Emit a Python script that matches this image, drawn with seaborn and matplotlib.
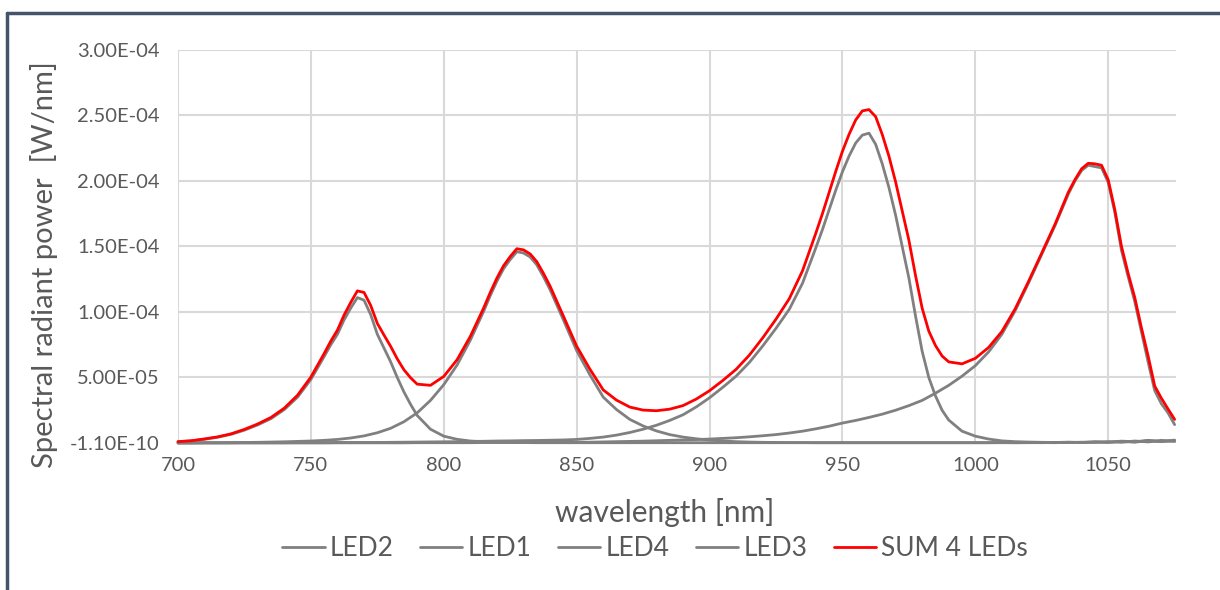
import numpy as np
import pandas as pd
import matplotlib
matplotlib.use("Agg")
import matplotlib.pyplot as plt
import seaborn as sns
from matplotlib.lines import Line2D
from matplotlib.ticker import FuncFormatter

# wavelength grid [nm]; spectra in units of 1e-5 W/nm
wavelength = np.arange(700, 1076, 5)

led2 = [0.10, 0.16, 0.28, 0.44, 0.66, 0.98, 1.38, 1.86, 2.55, 3.50,
        4.85, 6.60, 8.30, 10.30, 10.90, 8.30, 6.20, 3.90, 2.10, 1.05,
        0.52, 0.28, 0.15, 0.09, 0.06, 0.04, 0.03, 0.02, 0.02, 0.02,
        0.02, 0.02, 0.02, 0.02, 0.02, 0.02, 0.02, 0.02, 0.02, 0.02,
        0.02, 0.02, 0.02, 0.02, 0.02, 0.02, 0.02, 0.02, 0.02, 0.02,
        0.02, 0.02, 0.02, 0.02, 0.02, 0.02, 0.02, 0.02, 0.02, 0.02,
        0.02, 0.02, 0.02, 0.02, 0.03, 0.02, 0.04, 0.03, 0.06, 0.04,
        0.10, 0.05, 0.15, 0.08, 0.20, 0.12]

led1 = [0.00, 0.01, 0.02, 0.02, 0.03, 0.04, 0.05, 0.07, 0.09, 0.12,
        0.15, 0.20, 0.27, 0.38, 0.54, 0.78, 1.12, 1.62, 2.30, 3.25,
        4.45, 5.95, 7.85, 10.05, 12.35, 14.00, 14.50, 13.60, 11.70, 9.40,
        7.05, 5.20, 3.50, 2.55, 1.80, 1.30, 0.92, 0.64, 0.45, 0.32,
        0.22, 0.15, 0.10, 0.07, 0.05, 0.04, 0.03, 0.03, 0.02, 0.02,
        0.02, 0.02, 0.02, 0.02, 0.02, 0.02, 0.02, 0.02, 0.02, 0.02,
        0.02, 0.02, 0.03, 0.02, 0.02, 0.03, 0.02, 0.05, 0.03, 0.08,
        0.04, 0.12, 0.06, 0.18, 0.10, 0.22]

led4 = [0.00, 0.00, 0.01, 0.01, 0.01, 0.02, 0.02, 0.02, 0.02, 0.03,
        0.03, 0.03, 0.04, 0.04, 0.04, 0.04, 0.05, 0.06, 0.07, 0.08,
        0.09, 0.10, 0.12, 0.13, 0.15, 0.16, 0.18, 0.19, 0.21, 0.23,
        0.27, 0.35, 0.45, 0.60, 0.80, 1.05, 1.35, 1.72, 2.15, 2.75,
        3.45, 4.25, 5.10, 6.15, 7.40, 8.75, 10.20, 12.20, 14.90, 17.80,
        20.70, 22.90, 23.65, 21.30, 17.40, 12.60, 7.00, 3.60, 1.75, 0.90,
        0.52, 0.30, 0.16, 0.10, 0.07, 0.05, 0.04, 0.06, 0.04, 0.09,
        0.06, 0.14, 0.09, 0.20, 0.12, 0.18]

led3 = [0.00, 0.00, 0.00, 0.00, 0.00, 0.00, 0.00, 0.00, 0.00, 0.00,
        0.00, 0.00, 0.01, 0.01, 0.01, 0.01, 0.01, 0.01, 0.02, 0.02,
        0.02, 0.02, 0.02, 0.03, 0.03, 0.03, 0.03, 0.03, 0.04, 0.04,
        0.05, 0.06, 0.08, 0.10, 0.12, 0.14, 0.17, 0.20, 0.23, 0.26,
        0.30, 0.35, 0.40, 0.47, 0.55, 0.64, 0.76, 0.90, 1.08, 1.28,
        1.52, 1.72, 1.95, 2.20, 2.50, 2.85, 3.25, 3.80, 4.40, 5.10,
        5.90, 6.95, 8.30, 10.10, 12.20, 14.40, 16.60, 19.00, 20.80, 21.10,
        19.90, 14.70, 10.80, 6.20, 3.00, 1.40]

led_sum = [0.10, 0.17, 0.31, 0.47, 0.70, 1.04, 1.45, 1.95, 2.66, 3.65,
           5.03, 6.83, 8.62, 10.73, 11.49, 9.13, 7.38, 5.59, 4.49, 4.40,
           5.08, 6.35, 8.14, 10.30, 12.59, 14.23, 14.74, 13.84, 11.97, 9.69,
           7.39, 5.63, 4.05, 3.27, 2.74, 2.51, 2.46, 2.58, 2.85, 3.35,
           3.99, 4.77, 5.62, 6.71, 8.02, 9.45, 11.01, 13.15, 16.02, 19.12,
           22.26, 24.66, 25.45, 23.54, 19.94, 15.49, 10.29, 7.44, 6.19, 6.04,
           6.46, 7.29, 8.51, 10.24, 12.32, 14.50, 16.70, 19.14, 20.93, 21.31,
           20.10, 15.01, 11.10, 6.66, 3.42, 1.80]

# extra readings around the peaks (half-step points)
led2_peak_wl = [757.5, 762.5, 767.5, 772.5, 777.5, 782.5, 787.5]
led2_peak = [7.50, 9.40, 11.10, 9.80, 7.25, 5.00, 2.95]
led1_peak_wl = [817.5, 822.5, 827.5, 832.5, 837.5]
led1_peak = [11.25, 13.30, 14.60, 14.20, 12.70]
led4_peak_wl = [942.5, 947.5, 952.5, 957.5, 962.5, 967.5, 972.5, 977.5, 982.5, 987.5]
led4_peak = [16.30, 19.30, 21.90, 23.50, 22.80, 19.50, 15.00, 9.70, 5.00, 2.50]
led3_peak_wl = [1037.5, 1042.5, 1047.5, 1052.5, 1057.5, 1062.5, 1067.5, 1072.5]
led3_peak = [20.00, 21.20, 21.00, 17.60, 12.70, 8.50, 4.00, 2.30]
sum_peak_wl = (led2_peak_wl + led1_peak_wl + led4_peak_wl + led3_peak_wl)
sum_peak = [7.78, 9.77, 11.61, 10.50, 8.24, 6.42, 4.98,
            11.49, 13.53, 14.83, 14.43, 12.95,
            17.52, 20.74, 23.56, 25.35, 24.91, 21.89, 17.71, 12.79, 8.54, 6.64,
            20.10, 21.35, 21.20, 17.80, 12.95, 8.80, 4.35, 2.60]

series_names = ["LED2", "LED1", "LED4", "LED3", "SUM 4 LEDs"]
series_base = [led2, led1, led4, led3, led_sum]
series_extra_wl = [led2_peak_wl, led1_peak_wl, led4_peak_wl, led3_peak_wl, sum_peak_wl]
series_extra = [led2_peak, led1_peak, led4_peak, led3_peak, sum_peak]
y_ticks = [-1.1e-10, 5e-5, 1e-4, 1.5e-4, 2e-4, 2.5e-4, 3e-4]
x_ticks = [700, 750, 800, 850, 900, 950, 1000, 1050]

frames = []
for name, base, ewl, ev in zip(series_names, series_base, series_extra_wl, series_extra):
    part = pd.DataFrame({"wavelength": np.concatenate([wavelength, ewl]),
                         "power": np.concatenate([base, ev]) * 1e-5})
    part["series"] = name
    frames.append(part.sort_values("wavelength"))
df = pd.concat(frames, ignore_index=True)

sns.set_theme(style="white")
plt.rcParams['font.family'] = ['Lato', 'DejaVu Sans']
text_color = '#595959'

palette = {"LED2": "#808080", "LED1": "#808080", "LED4": "#808080",
           "LED3": "#808080", "SUM 4 LEDs": "#FF0000"}

fig = plt.figure(figsize=(12.2, 5.9), dpi=100)
ax = fig.add_axes([0.1459, 0.2492, 0.8180, 0.6661])

sns.lineplot(data=df, x="wavelength", y="power", hue="series",
             hue_order=series_names, palette=palette, linewidth=2.0,
             sort=False, estimator=None, ax=ax, legend=False)
for line in ax.lines:
    line.set_clip_on(False)

ax.set_xlim(700, 1075.5)
ax.set_ylim(y_ticks[0], y_ticks[-1])
ax.set_xticks(x_ticks)
ax.set_yticks(y_ticks)
ax.yaxis.set_major_formatter(FuncFormatter(lambda v, p: f"{v:.2E}"))
ax.grid(True, color='#D9D9D9', linewidth=1.5)
ax.set_axisbelow(True)
for s in ax.spines.values():
    s.set_visible(False)
ax.tick_params(axis='both', length=0, labelcolor=text_color, labelsize=14.5)
ax.tick_params(axis='y', pad=13)
ax.tick_params(axis='x', pad=10)

ax.set_xlabel("wavelength [nm]", fontsize=21.5, color=text_color)
ax.set_ylabel("Spectral radiant power  [W/nm]", fontsize=21, color=text_color)
ax.xaxis.set_label_coords(0.488, -0.14)
ax.yaxis.set_label_coords(-0.120, 0.453)

handles = [Line2D([], [], color=palette[n], linewidth=2.0) for n in series_names]
fig.legend(handles, series_names, loc='center', bbox_to_anchor=(0.537, 0.07),
           ncol=5, frameon=False, fontsize=19, handlelength=1.6,
           handletextpad=0.2, columnspacing=1.0, labelcolor=text_color)

# chart frame (only top and left edges visible in the crop)
fig.add_artist(Line2D([7 / 1220, 1.0], [1 - 13 / 590, 1 - 13 / 590],
                      color='#44546A', linewidth=2.5, transform=fig.transFigure))
fig.add_artist(Line2D([7 / 1220, 7 / 1220], [0.0, 1 - 13 / 590],
                      color='#44546A', linewidth=2.5, transform=fig.transFigure))

fig.savefig("out.png", dpi=100)
